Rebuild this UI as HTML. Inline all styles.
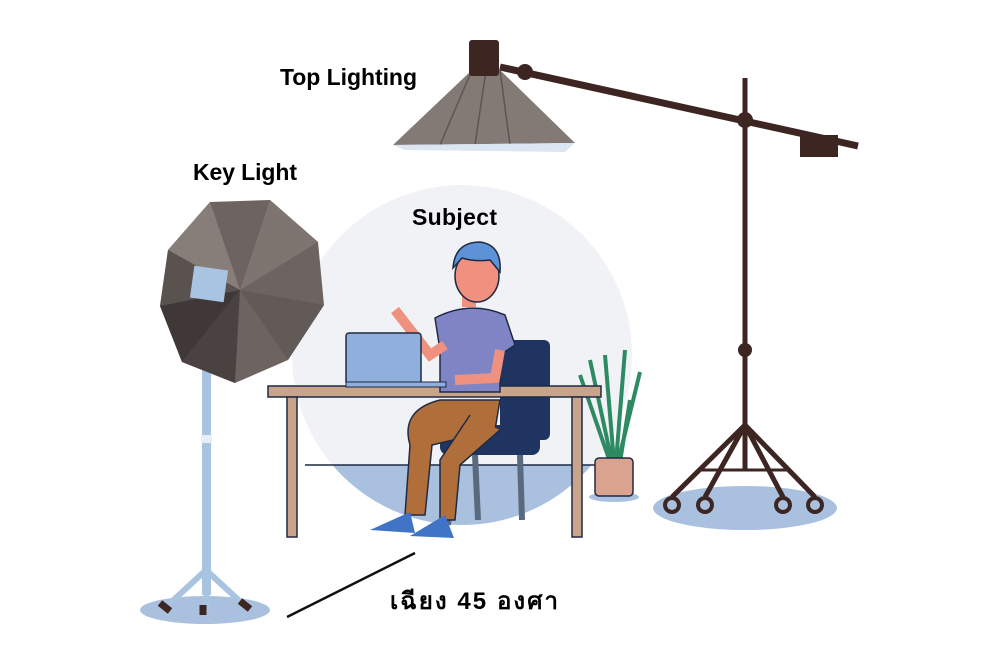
<!DOCTYPE html>
<html><head><meta charset="utf-8"><style>
html,body{margin:0;padding:0;background:#fff;}
svg{display:block;}
text{font-family:"Liberation Sans","Noto Sans CJK SC",sans-serif;font-weight:bold;fill:#000;}
</style></head><body>
<svg width="1000" height="667" viewBox="0 0 1000 667" xmlns="http://www.w3.org/2000/svg">
<defs><clipPath id="c"><circle cx="462" cy="355" r="170"/></clipPath></defs>
<circle cx="462" cy="355" r="170" fill="#f1f2f6"/>
<rect x="290" y="465" width="350" height="100" fill="#a9c1de" clip-path="url(#c)"/>
<line x1="305" y1="465" x2="620" y2="465" stroke="#1f2a44" stroke-width="1.5"/>
<ellipse cx="205" cy="610" rx="65" ry="14" fill="#a9c1de"/>
<ellipse cx="745" cy="508" rx="92" ry="22" fill="#a9c1de"/>
<ellipse cx="614" cy="497" rx="25" ry="5" fill="#a9c1de"/>
<rect x="202" y="280" width="9" height="315" fill="#a9c4e0"/>
<rect x="201" y="435" width="11" height="8" fill="#e8eef6"/>
<path d="M206 570 L165 608 M206 570 L207 612 M206 570 L245 606" stroke="#a9c4e0" stroke-width="6"/>
<path d="M160 603 l10 8 M203 605 l0 10 M240 601 l10 8" stroke="#3d2522" stroke-width="7"/>
<polygon points="210,202 270,200 318,242 324,305 288,360 235,383 182,362 160,306 168,250" fill="#6d6461"/>
<polygon points="168,250 210,202 240,290" fill="#877e7a"/>
<polygon points="160,306 168,250 240,290" fill="#5a524f"/>
<polygon points="182,362 160,306 240,290" fill="#3f3836"/>
<polygon points="235,383 182,362 240,290" fill="#4a4240"/>
<polygon points="270,200 318,242 240,290" fill="#7e7571"/>
<polygon points="324,305 288,360 240,290" fill="#625a57"/>
<rect x="192" y="268" width="34" height="32" fill="#a9c4e0" transform="rotate(8 209 284)"/>
<g stroke="#3d2522" fill="none">
<line x1="745" y1="78" x2="745" y2="430" stroke-width="5"/>
<line x1="500" y1="67" x2="858" y2="146" stroke-width="7"/>
<path d="M745 425 L672 497 M745 425 L705 497 M745 425 L783 497 M745 425 L815 497 M745 425 L745 470" stroke-width="5"/>
<path d="M700 470 L790 470" stroke-width="3"/>
</g>
<g fill="none" stroke="#3d2522" stroke-width="4">
<circle cx="672" cy="505" r="7"/><circle cx="705" cy="505" r="7"/><circle cx="783" cy="505" r="7"/><circle cx="815" cy="505" r="7"/>
</g>
<circle cx="745" cy="350" r="7" fill="#3d2522"/>
<circle cx="745" cy="120" r="8" fill="#3d2522"/>
<circle cx="525" cy="72" r="8" fill="#3d2522"/>
<rect x="800" y="135" width="38" height="22" fill="#3d2522"/>
<polygon points="472,70 500,70 575,143 393,145" fill="#837a76"/>
<path d="M472 70 L440 145 M500 70 L510 145 M486 70 L475 145" stroke="#5e5552" stroke-width="1.5"/>
<polygon points="393,145 575,143 565,152 405,150" fill="#dbe6f2"/>
<rect x="469" y="40" width="30" height="36" rx="3" fill="#3d2522"/>
<g stroke="#2e8a63" stroke-width="4" fill="none">
<path d="M612 462 L590 360 M614 462 L605 355 M616 462 L625 350 M618 462 L640 372 M610 462 L580 375 M620 462 L630 400"/>
</g>
<rect x="595" y="458" width="38" height="38" rx="4" fill="#d9a38f" stroke="#1f2a44" stroke-width="1.5"/>
<rect x="500" y="340" width="50" height="100" rx="6" fill="#1f3460"/>
<rect x="440" y="425" width="100" height="30" rx="8" fill="#1f3460"/>
<path d="M455 455 L448 525 M475 455 L478 520 M520 455 L522 520" stroke="#5a6a7e" stroke-width="6"/>
<rect x="268" y="386" width="333" height="11" fill="#c8a58a" stroke="#1f2a44" stroke-width="1.5"/>
<rect x="287" y="397" width="10" height="140" fill="#c8a58a" stroke="#1f2a44" stroke-width="1.5"/>
<rect x="572" y="397" width="10" height="140" fill="#c8a58a" stroke="#1f2a44" stroke-width="1.5"/>
<path d="M435 318 Q470 300 505 315 L515 345 L500 355 L500 392 L440 392 L440 350 Z" fill="#7f85c4" stroke="#1f2a44" stroke-width="1.5"/>
<path d="M395 310 L430 355 L445 345" stroke="#f0907e" stroke-width="10" fill="none"/>
<path d="M500 350 L495 378 L455 380" stroke="#f0907e" stroke-width="10" fill="none"/>
<rect x="462" y="285" width="14" height="22" fill="#f0907e"/>
<ellipse cx="477" cy="276" rx="22" ry="26" fill="#f0907e" stroke="#1f2a44" stroke-width="1.5"/>
<path d="M453 268 Q455 242 480 242 Q502 245 500 272 L490 260 Q475 262 462 258 Z" fill="#5d92d6" stroke="#1f2a44" stroke-width="1.5"/>
<path d="M440 400 Q400 410 410 445 L405 515 L425 515 L432 445 L495 430 L500 400 Z" fill="#b06f3a" stroke="#1f2a44" stroke-width="1.5"/>
<path d="M470 415 L440 460 L440 520 L455 520 L460 465 L500 430" fill="#b06f3a" stroke="#1f2a44" stroke-width="1.5"/>
<path d="M370 530 L410 512 L415 533 Z" fill="#3f74c6"/>
<path d="M410 536 L445 515 L454 538 Z" fill="#3f74c6"/>
<rect x="346" y="333" width="75" height="52" rx="3" fill="#8fb0dc" stroke="#1f2a44" stroke-width="1.5"/>
<rect x="346" y="382" width="100" height="5" fill="#8fb0dc" stroke="#1f2a44" stroke-width="1"/>
<line x1="287" y1="617" x2="415" y2="553" stroke="#111" stroke-width="2.5"/>
<text x="280" y="85" font-size="23" textLength="137">Top Lighting</text>
<text x="193" y="180" font-size="23" textLength="104">Key Light</text>
<text x="412" y="225" font-size="23" textLength="85">Subject</text>
<text x="390" y="609" font-size="24" textLength="168">เฉียง 45 องศา</text>
</svg>
</body></html>
